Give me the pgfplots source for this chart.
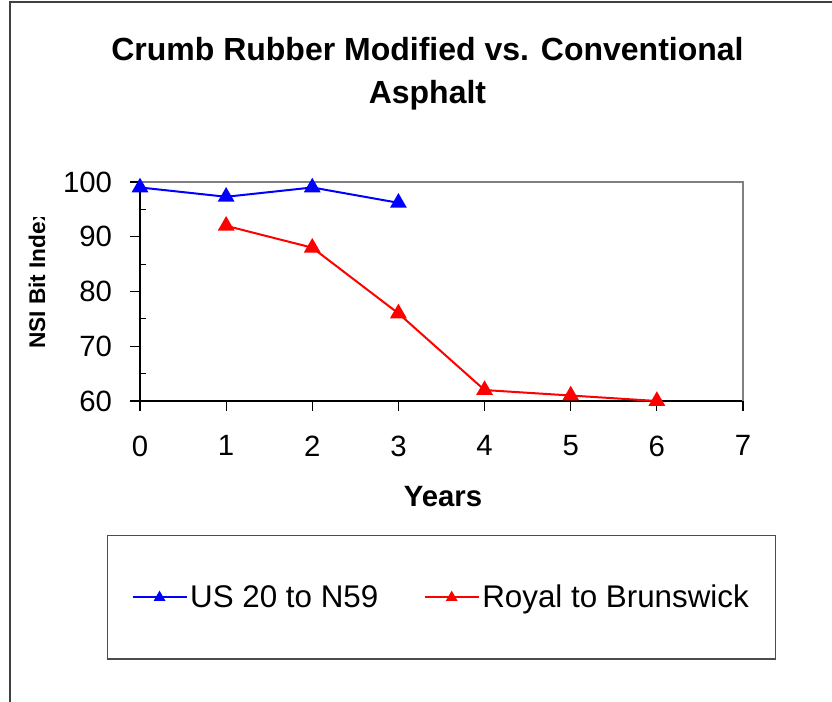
\documentclass[border=0pt]{standalone}
\usepackage{pgfplots}
\pgfplotsset{compat=1.18}
\usepackage{fontspec}
\setmainfont{Liberation Sans}
\begin{document}
\begin{tikzpicture}
\useasboundingbox (0,0) rectangle (624pt,526.5pt);
% outer chart frame (left and top edges visible)
\draw[line width=1.2pt, black!75] (7.5pt,0pt) -- (7.5pt,525pt) -- (624pt,525pt);
% title
\node[align=center, font=\bfseries\fontsize{24}{32.25}\selectfont] at (320.6pt,471.4pt)
  {Crumb Rubber Modified vs. Conventional\\Asphalt};
\begin{axis}[
  at={(105pt,225.75pt)}, anchor=south west,
  scale only axis, width=452.25pt, height=164.25pt,
  xmin=0, xmax=7, ymin=60, ymax=100,
  xtick={0,1,...,7}, ytick={60,70,80,90,100},
  minor y tick num=1,
  tick align=outside,
  major tick length=7.5pt, minor tick length=4.5pt,
  minor tick style={xshift=4.5pt},
  tick style={black, line width=0.8pt},
  axis line style={line width=1.4pt},
  separate axis lines,
  axis x line*=bottom, axis y line*=left,
  clip=false,
  /pgf/number format/assume math mode=true,
  ticklabel style={font=\fontsize{22}{26}\selectfont},
  xticklabel style={yshift=-15pt},
  yticklabel style={xshift=-10pt},
  xlabel={Years},
  xlabel style={font=\bfseries\fontsize{22}{26}\selectfont, at={(axis description cs:0.5025,-0.438)}, anchor=center},
  legend style={at={(axis description cs:0.5,-0.897)}, anchor=center,
    draw=black!70, line width=1pt,
    font=\fontsize{23.5}{27}\selectfont,
    inner xsep=18pt, inner ysep=35pt,
    /tikz/every even column/.append style={column sep=32pt}},
  legend columns=2,
  legend cell align=left,
  legend image code/.code={\draw[#1, mark size=3.6pt, mark repeat=2, mark phase=2] plot coordinates {(0pt,0pt) (20.25pt,0pt) (40.5pt,0pt)};},
]
% top and right frame in gray
\draw[gray, line width=1.4pt] (axis cs:0,100) -- (axis cs:7,100) -- (axis cs:7,60);
\addplot[blue, line width=1.5pt, mark=triangle*, mark size=5.8pt, mark options={solid, fill=blue}]
  coordinates {(0,99) (1,97.3) (2,99) (3,96.2)};
\addlegendentry{US 20 to N59}
\addplot[red, line width=1.5pt, mark=triangle*, mark size=5.8pt, mark options={solid, fill=red}]
  coordinates {(1,92) (2,88) (3,76) (4,62) (5,61) (6,60)};
\addlegendentry{Royal to Brunswick}
\end{axis}
% y label, clipped as in the original
\begin{scope}
\clip (10pt,256.5pt) rectangle (60pt,363.4pt);
\node[rotate=90, font=\bfseries\fontsize{17}{20}\selectfont] at (27.75pt,317.25pt) {NSI Bit Index};
\end{scope}
\end{tikzpicture}
\end{document}
